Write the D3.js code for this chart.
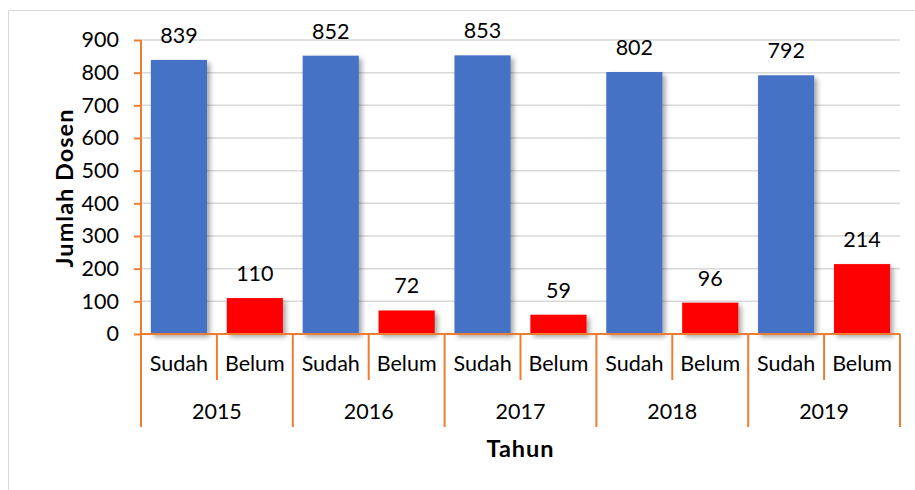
<!DOCTYPE html>
<html><head><meta charset="utf-8">
<script src="https://cdn.jsdelivr.net/npm/d3@7"></script>
<style>body{margin:0;background:#fff}svg{font-family:Lato,"Open Sans",sans-serif}</style>
</head><body><svg id="c" width="915" height="490"></svg>
<script>
const years = ["2015","2016","2017","2018","2019"];
const statuses = ["Sudah","Belum"];
const sudahValues = [839,852,853,802,792];
const belumValues = [110,72,59,96,214];
const yTicks = [0,100,200,300,400,500,600,700,800,900];
const yTitle = "Jumlah Dosen";
const xTitle = "Tahun";

(function(){
const rows = [];
years.forEach((yr,i)=>{
  rows.push({year:yr,status:"Sudah",value:sudahValues[i],key:yr+"-Sudah"});
  rows.push({year:yr,status:"Belum",value:belumValues[i],key:yr+"-Belum"});
});
const colors = {Sudah:"#4472C4",Belum:"#FF0000"};
const axisColor = "#ED7D31";
const fs = 21.5;

const svg = d3.select("#c");
const defs = svg.append("defs");
const f = defs.append("filter").attr("id","sh").attr("x","-20%").attr("y","-20%").attr("width","150%").attr("height","150%");
f.append("feDropShadow").attr("dx",3).attr("dy",3).attr("stdDeviation",2.5).attr("flood-color","#000").attr("flood-opacity",0.35);

svg.append("path").attr("d","M8.5,490 L8.5,10.5 L915,10.5").attr("fill","none").attr("stroke","#d9d9d9").attr("stroke-width",1);

const pL=141, pR=900, pT=40, pB=334;
const x = d3.scaleBand().domain(rows.map(d=>d.key)).range([pL,pR]).paddingInner(0).paddingOuter(0);
const y = d3.scaleLinear().domain([0,900]).range([pB,pT]);

svg.append("g").selectAll("line").data(yTicks.filter(t=>t>0)).join("line")
  .attr("x1",pL).attr("x2",pR).attr("y1",d=>y(d)).attr("y2",d=>y(d))
  .attr("stroke","#d9d9d9").attr("stroke-width",1.5);

const bw = x.bandwidth();
const barW = bw*0.74;
svg.append("g").selectAll("rect").data(rows).join("rect")
  .attr("x",d=>x(d.key)+(bw-barW)/2).attr("width",barW)
  .attr("y",d=>y(d.value)).attr("height",d=>pB-y(d.value))
  .attr("fill",d=>colors[d.status]).attr("filter","url(#sh)");

svg.append("g").selectAll("text").data(rows).join("text")
  .attr("x",d=>x(d.key)+bw/2).attr("y",d=>y(d.value)-17)
  .attr("text-anchor","middle").attr("font-size",fs).attr("fill","#000")
  .text(d=>d.value);

const yAxis = d3.axisLeft(y).tickValues(yTicks).tickSize(7).tickPadding(15);
const yg = svg.append("g").attr("transform",`translate(${pL},0)`).call(yAxis);
yg.select(".domain").attr("stroke",axisColor).attr("stroke-width",2).attr("d",`M0,${pT}V${pB}`);
yg.selectAll(".tick line").attr("stroke",axisColor).attr("stroke-width",2);
yg.selectAll(".tick text").attr("font-size",fs).attr("fill","#000").attr("font-family","Lato,sans-serif");

const xAxis = d3.axisBottom(x).tickSize(0).tickFormat(k=>k.split("-")[1]).tickPadding(20);
const xg = svg.append("g").attr("transform",`translate(0,${pB})`).call(xAxis);
xg.select(".domain").attr("stroke",axisColor).attr("stroke-width",2).attr("d",`M${pL},0H${pR}`);
xg.selectAll(".tick text").attr("font-size",fs).attr("fill","#000").attr("font-family","Lato,sans-serif").attr("y",37).attr("dy","0");

svg.append("g").selectAll("line").data(years).join("line")
  .attr("x1",d=>x(d+"-Belum")).attr("x2",d=>x(d+"-Belum"))
  .attr("y1",pB).attr("y2",pB+46)
  .attr("stroke",axisColor).attr("stroke-width",2);
const bounds = years.map(d=>x(d+"-Sudah")).concat([pR]);
svg.append("g").selectAll("line").data(bounds).join("line")
  .attr("x1",d=>d).attr("x2",d=>d).attr("y1",pB).attr("y2",pB+93)
  .attr("stroke",axisColor).attr("stroke-width",2);
svg.append("g").selectAll("text").data(years).join("text")
  .attr("x",d=>x(d+"-Belum")).attr("y",pB+85)
  .attr("text-anchor","middle").attr("font-size",fs).attr("fill","#000").text(d=>d);

svg.append("text").attr("x",(pL+pR)/2).attr("y",457).attr("text-anchor","middle")
  .attr("font-size",23.5).attr("letter-spacing",1).attr("font-weight","bold").text(xTitle);
svg.append("text").attr("transform",`translate(73,188) rotate(-90)`).attr("text-anchor","middle")
  .attr("font-size",23.5).attr("letter-spacing",1).attr("font-weight","bold").text(yTitle);
})();
</script></body></html>
